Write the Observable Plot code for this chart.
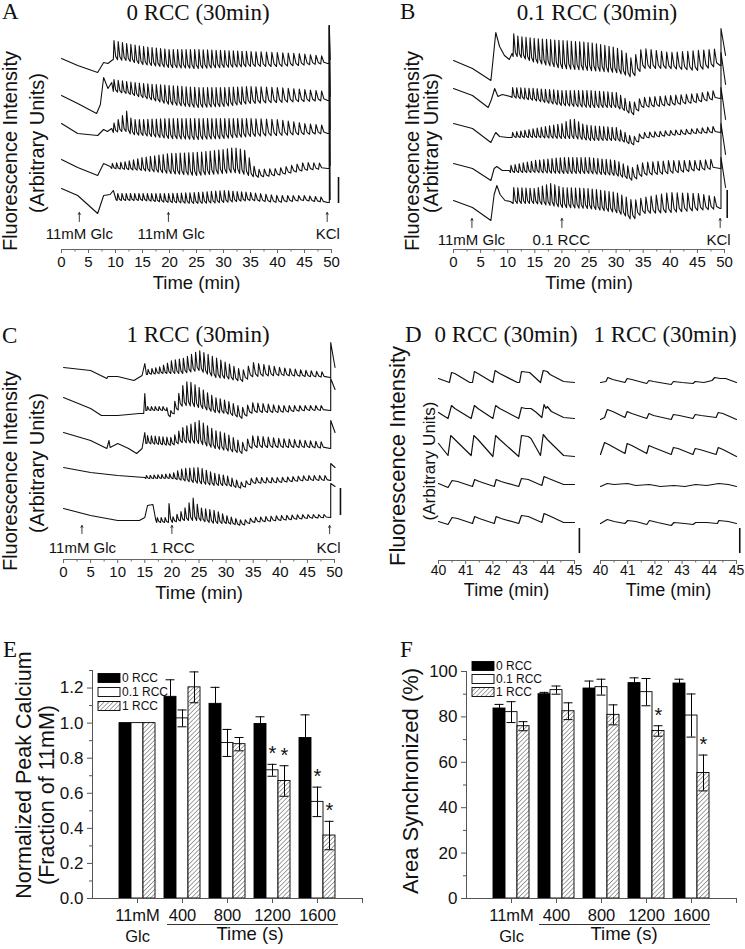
<!DOCTYPE html>
<html><head><meta charset="utf-8">
<script src="https://cdn.jsdelivr.net/npm/d3@7"></script>
<script src="https://cdn.jsdelivr.net/npm/@observablehq/plot@0.6"></script>
<style>
body{margin:0;background:#fff;}
#root{position:relative;width:745px;height:949px;overflow:hidden;background:#fff;}
.panel{position:absolute;}
.panel svg{overflow:visible;display:block;}
#overlay{position:absolute;left:0;top:0;pointer-events:none;}
</style></head><body><div id="root"></div><script>
// ---------------- DATA ----------------
// Time axes
const timeTicks = [0,5,10,15,20,25,30,35,40,45,50];
const timeMinor = [2.5,7.5,12.5,17.5,22.5,27.5,32.5,37.5,42.5,47.5];
const zoomTicks = [40,41,42,43,44,45];
const zoomMinor = [40.5,41.5,42.5,43.5,44.5];

// Oscillation period (min) read along each recording: [t, period]
const periodA = [[9,0.78],[33,0.8],[37,1.0],[50,1.05]];
const periodB = [[10,0.75],[30,0.78],[34,0.95],[50,1.0]];
const periodC = [[15,0.7],[30,0.8],[34,0.95],[50,1.0]];

// Panel A (0 RCC): pre-oscillation trace [t, F], oscillation envelope [t, trough, peak], KCl [t, peak, end]
const aPre = [
 [[0,191],[3,184],[6.7,177],[7.8,187],[8.6,186],[9.3,189]],
 [[0,154],[3,146],[6.5,136],[7.2,145],[7.8,172],[8.6,161],[9.3,167]],
 [[0,126],[3,116],[6.7,114],[7.8,120],[8.5,118],[9.3,121]],
 [[0,90],[3,82],[6.7,74],[7.8,86],[9,83]],
 [[0,61],[3,54],[6.7,36],[7.8,54],[9,55],[9.6,59],[10.1,50]]
];
const aEnv = [
 [[9.6,190,209],[12,189,206],[15,185,203],[20,182,200],[25,181,200],[30,182,199],[35,183,198],[40,183,197],[44,184,196],[49.3,186,193]],
 [[9.6,158,170],[12,156,168],[15,152,166],[20,145,164],[25,142,162],[30,143,162],[35,146,163],[40,147,162],[45,148,160],[49.3,149,158]],
 [[9.6,117,126],[11,118,132],[12,118,139],[13,115,130],[15,114,130],[20,111,131],[25,110,131],[30,111,131],[35,113,131],[40,114,130],[45,115,126],[49.3,116,124]],
 [[9.3,81,86],[12,80,88],[15,79,92],[20,76,96],[25,74,97],[30,76,100],[32,77,102],[34,75,99],[36,72,80],[40,74,81],[45,79,87],[49.3,81,86]],
 [[10.3,49,56],[15,49,56],[20,47,56],[25,46,57],[30,47,59],[35,49,57],[40,47,54],[45,49,54],[49.3,47,52]]
];
const aKCl = [[49.6,224,190],[49.6,224,153],[49.6,224,120],[49.6,224,84],[49.6,224,50]];
const aArrows = [[3.3,28,37],[19.8,28,37],[49.2,28,37]];
const aNotes = [[3.3,15,"11mM Glc"],[20.3,15,"11mM Glc"],[49.3,15,"KCl"]];
const aBar = [[51.3,46,72]];

// Panel B (0.1 RCC)
const bPre = [
 [[0,189],[3.5,181],[6.9,169],[7.3,190],[7.8,217],[8.5,203],[9.4,194],[10.3,190],[10.8,196]],
 [[0,161],[3.5,154],[6.4,142],[7.0,150],[7.6,161],[8.2,153],[9,155],[10.5,153]],
 [[0,126],[3.5,121],[6.9,107],[7.5,114],[7.8,117],[8.5,113],[10,112]],
 [[0,86],[3.5,81],[6.9,69],[7.5,81],[8,83],[9,79],[10.3,79]],
 [[0,49],[3.5,42],[6.9,29],[7.5,55],[8,64],[8.6,55],[9.5,49],[10.5,48]]
];
const bEnv = [
 [[11,193,216],[12,193,213],[15,187,211],[20,181,209],[25,179,207],[30,177,202],[32,174,196],[33,172,190],[34,176,198],[35,181,201],[40,181,197],[45,179,199],[49.2,184,201]],
 [[10.8,152,162],[15,149,161],[20,144,159],[25,142,159],[30,142,157],[32,138,150],[33,134,146],[34,138,150],[35,142,152],[40,144,154],[45,147,156],[49.2,151,160]],
 [[10.8,112,117],[15,112,121],[20,111,126],[22,111,131],[24,110,125],[25,109,124],[30,109,122],[32,107,116],[33,104,112],[34,107,115],[35,111,117],[40,114,119],[45,116,121],[49.2,117,124]],
 [[10.5,77,84],[15,77,89],[20,76,92],[25,76,92],[30,74,89],[32,71,84],[33,69,82],[34,71,85],[35,74,87],[40,76,89],[45,79,89],[49.2,81,91]],
 [[11,46,62],[15,46,61],[18,44,66],[20,42,62],[25,41,61],[30,37,57],[32,33,52],[33,29,49],[34,33,50],[35,36,52],[40,37,57],[45,39,56],[49.2,41,52]]
];
const bKCl = [[49.35,221,194],[49.35,197,165],[49.35,162,130],[49.35,126,95],[49.35,92,62]];
const bArrows = [[3.4,22,31],[20,22,31],[49.2,22,31]];
const bNotes = [[3.3,9,"11mM Glc"],[19.9,9,"0.1 RCC"],[48.9,9,"KCl"]];
const bBar = [[50.5,31,59]];

// Panel C (1 RCC)
const cPre = [
 [[0,192],[5,189],[8,181],[8.2,183],[10,183],[13,179],[14.5,184],[15,196],[15.3,185]],
 [[0,162],[5,151],[7,144],[10,144],[14,146],[14.8,146],[15,166],[15.2,149]],
 [[0,127],[5,119],[8,111],[8.4,119],[8.6,112],[10,116],[12,111],[13.5,106],[14.5,111],[15,127],[15.2,116]],
 [[0,92],[5,87],[10,84],[15,82]],
 [[0,51],[5,44],[10,39],[14,39],[15,42],[15.5,54],[16.5,55],[17,40]]
];
const cEnv = [
 [[15.5,185,190],[18,186,193],[20,186,199],[22,186,201],[25,189,209],[28,182,202],[30,181,197],[33,178,189],[35,183,197],[40,184,192],[45,183,189],[49.2,182,187]],
 [[15.4,149,153],[19,149,153],[19.5,142,145],[20.5,146,158],[22,154,174],[23,154,179],[25,152,172],[28,147,162],[30,146,159],[33,141,152],[35,147,157],[40,147,154],[45,149,154],[49.2,149,154]],
 [[15.4,116,124],[20,114,122],[22,117,132],[25,116,139],[28,111,129],[30,109,126],[33,106,117],[35,112,124],[40,112,121],[45,112,119],[49.2,111,117]],
 [[15.2,81,84],[18,81,85],[20,81,86],[22,79,91],[25,76,92],[28,74,86],[30,74,84],[33,71,77],[35,76,82],[40,77,82],[45,79,84],[49.2,79,84]],
 [[17.2,37,42],[19,37,42],[19.5,37,57],[20,37,42],[22,39,49],[24,39,62],[25,39,52],[28,36,49],[30,36,44],[33,34,39],[35,37,42],[40,39,44],[45,41,45],[49.2,42,45]]
];
const cKCl = [[49.3,217,192],[49.3,181,170],[49.3,139,127],[49.3,96,92],[49.3,76,73]];
const cArrows = [[3.4,26,34],[20,26,34],[49.1,26,34]];
const cNotes = [[3.5,11,"11mM Glc"],[20.1,11,"1 RCC"],[48.9,11,"KCl"]];
const cBar = [[51.1,44,71]];

// Panel D: 40-45 min excerpts [t, F]
const d0 = [
 [[40.0,182],[40.4,178],[40.48,188],[40.6,187],[41.15,178],[41.25,178],[41.32,189],[41.45,187],[42.0,178],[42.08,190],[42.25,187],[42.9,178],[42.98,178],[43.05,189],[43.35,188],[43.75,178],[43.85,190],[44.0,189],[44.1,186],[44.6,179],[45.0,178]],
 [[40.0,148],[40.35,142],[40.48,155],[40.6,152],[41.2,142],[41.32,155],[41.45,152],[42.0,142],[42.1,155],[42.25,152],[42.95,142],[43.05,153],[43.2,152],[43.4,152],[43.6,148],[43.8,143],[43.88,156],[43.95,152],[44.0,154],[44.15,149],[44.6,143],[45.0,142]],
 [[40.0,117],[40.35,105],[40.45,125],[40.6,121],[41.2,105],[41.3,125],[41.45,121],[42.0,104],[42.1,125],[42.25,121],[42.95,104],[43.05,125],[43.3,124],[43.4,122],[43.75,105],[43.85,126],[44.0,121],[44.6,105],[45.0,104]],
 [[40.0,77],[40.35,73],[40.5,80],[40.7,79],[41.25,74],[41.33,81],[41.5,79],[42.05,74],[42.12,81],[42.3,79],[42.95,74],[43.05,82],[43.3,81],[43.8,75],[43.88,84],[44.05,82],[44.6,76],[45.0,76]],
 [[40.0,39],[40.35,36],[40.5,43],[40.7,42],[41.25,37],[41.33,44],[41.5,42],[42.05,37],[42.12,44],[42.3,42],[42.95,37],[43.05,45],[43.3,44],[43.8,38],[43.88,47],[44.05,45],[44.6,38],[45.0,38]]
];
const d1 = [
 [[40.0,178],[40.2,179],[40.27,183],[40.45,181],[40.9,178],[40.98,182],[41.15,181],[41.7,177],[41.78,180],[41.95,179],[42.6,176],[42.68,179],[43.0,178],[43.4,177],[43.48,179],[43.8,178],[44.1,180],[44.2,183],[44.4,182],[44.6,182],[44.8,180],[45.0,178]],
 [[40.0,141],[40.15,143],[40.25,151],[40.45,149],[40.9,143],[40.98,149],[41.15,147],[41.7,142],[41.78,147],[41.95,145],[42.6,141],[42.68,146],[42.9,145],[43.4,142],[43.48,146],[43.7,145],[44.25,143],[44.33,148],[44.5,147],[45.0,141]],
 [[40.0,106],[40.15,118],[40.3,116],[40.9,107],[40.98,117],[41.15,115],[41.7,107],[41.78,115],[41.95,113],[42.6,106],[42.68,113],[42.85,112],[43.4,106],[43.48,112],[43.65,111],[44.25,106],[44.33,113],[44.5,111],[45.0,104]],
 [[40.0,74],[40.25,77],[40.5,76],[41.0,77],[41.3,75],[41.8,76],[42.2,74],[42.7,75],[43.1,74],[43.5,76],[43.9,75],[44.35,77],[44.7,76],[45.0,74]],
 [[40.0,37],[40.25,41],[40.5,39],[40.9,37],[41.0,40],[41.3,39],[41.7,36],[41.8,40],[42.1,38],[42.6,35],[42.7,38],[43.1,37],[43.4,36],[43.5,38],[43.9,38],[44.3,37],[44.35,40],[44.7,39],[45.0,37]]
];
const d0Bar = [[45.18,7,32]];
const d1Bar = [[45.12,7,32]];

// Panels E, F: grouped bars
const groupLabels = ["11mM\nGlc","400","800","1200","1600"];
const seriesNames = ["0 RCC","0.1 RCC","1 RCC"];
const ePeak = [[1.0,1.15,1.11,0.995,0.915],[1.0,1.027,0.887,0.731,0.551],[1.0,1.204,0.88,0.67,0.359]];
const ePeakErr = [[0,0.097,0.094,0.041,0.132],[0,0.048,0.077,0.034,0.084],[0,0.088,0.038,0.087,0.081]];
const eSig = [[4,1],[4,2],[5,1],[5,2]];
const eTicks = [0,0.2,0.4,0.6,0.8,1.0,1.2];
const eMinor = [0.1,0.3,0.5,0.7,0.9,1.1,1.3];
const fSync = [[83.7,90.0,92.5,94.9,94.7],[82.1,91.8,93.1,90.9,80.6],[75.9,82.5,80.9,73.8,55.3]];
const fSyncErr = [[1.8,0.8,3.3,2.3,1.9],[4.6,1.8,3.5,6.0,9.5],[2.0,3.7,4.4,2.3,7.9]];
const fSig = [[4,2],[5,2]];
const fTicks = [0,20,40,60,80,100];
const fMinor = [10,30,50,70,90];

// ---------------- RENDER ----------------
const SANS = "'Liberation Sans', Arial, Helvetica, sans-serif";
const SERIF = "'Liberation Serif', 'Times New Roman', serif";
const root = document.getElementById("root");
const NS = "http://www.w3.org/2000/svg";

function place(node, left, top) {
  const d = document.createElement("div");
  d.className = "panel"; d.style.left = left + "px"; d.style.top = top + "px";
  d.appendChild(node); root.appendChild(d);
}
function lerp(arr, t, col) {
  if (t <= arr[0][0]) return arr[0][col];
  for (let i = 1; i < arr.length; i++) {
    if (t <= arr[i][0]) {
      const a = arr[i-1], b = arr[i], f = (t - a[0]) / (b[0] - a[0]);
      return a[col] + f * (b[col] - a[col]);
    }
  }
  return arr[arr.length-1][col];
}
function buildTrace(id, pre, env, period, kcl, tEnd) {
  const out = pre.map(([t, v]) => ({id, t, v}));
  const t1 = env[env.length-1][0];
  let t = env[0][0];
  while (true) {
    const p = lerp(period, t, 1);
    if (t + p > t1) break;
    const lo = lerp(env, t, 1), hi = lerp(env, t + 0.15*p, 2), lo2 = lerp(env, t + p, 1);
    out.push({id, t, v: lo}, {id, t: t + 0.15*p, v: hi}, {id, t: t + 0.55*p, v: lo2 + 0.18*(hi - lo2)});
    t += p;
  }
  const last = lerp(env, t1, 1);
  out.push({id, t: t1, v: last}, {id, t: kcl[0], v: last});
  out.push({id, t: kcl[0], v: kcl[1]}, {id, t: tEnd, v: kcl[2]});
  return out;
}
const baseStyle = {fontFamily: SANS, fontSize: "15px", background: "transparent", color: "#111", overflow: "visible"};

function tracePanel(o) {
  const pts = [];
  o.pre.forEach((pre, i) => pts.push(...buildTrace(i, pre, o.env[i], o.period, o.kcl[i], o.tEnd)));
  return Plot.plot({
    width: o.width, height: o.height,
    marginLeft: o.mL, marginRight: o.mR, marginTop: o.mT, marginBottom: o.mB,
    x: {domain: [0, 50]}, y: {domain: [0, o.yMax], axis: null},
    style: baseStyle,
    marks: [
      Plot.ruleY([0], {stroke: "#666"}),
      Plot.axisX({ticks: timeTicks, tickSize: 4, tickPadding: 3, fontSize: 15, label: null, stroke: "#666"}),
      Plot.axisX({ticks: timeMinor, tickSize: 2.5, tickFormat: () => "", label: null, stroke: "#666"}),
      Plot.line(pts, {x: "t", y: "v", z: "id", stroke: "#111", strokeWidth: 1.1}),
      Plot.arrow(o.arrows, {x1: d => d[0], x2: d => d[0], y1: d => d[1], y2: d => d[2], headLength: 3.5, stroke: "#222", strokeWidth: 0.9}),
      Plot.text(o.notes, {x: d => d[0], y: d => d[1], text: d => d[2], fontSize: 15}),
      Plot.ruleX(o.bar, {x: d => d[0], y1: d => d[1], y2: d => d[2], stroke: "#111", strokeWidth: 1.6}),
      Plot.text(["Time (min)"], {frameAnchor: "bottom", text: d => d, dy: 39, fontSize: 18.5})
    ]
  });
}
function zoomPanel(o) {
  const pts = [];
  o.traces.forEach((tr, i) => tr.forEach(([t, v]) => pts.push({id: i, t, v})));
  return Plot.plot({
    width: o.width, height: o.height,
    marginLeft: o.mL, marginRight: o.mR, marginTop: 40, marginBottom: 60,
    x: {domain: [40, 45]}, y: {domain: [0, 200], axis: null},
    style: baseStyle,
    marks: [
      Plot.ruleY([0], {stroke: "#666"}),
      Plot.axisX({ticks: zoomTicks, tickSize: 4, tickPadding: 1, fontSize: 14, tickFormat: d3.format("d"), label: null, stroke: "#666"}),
      Plot.axisX({ticks: zoomMinor, tickSize: 2.5, tickFormat: () => "", label: null, stroke: "#666"}),
      Plot.line(pts, {x: "t", y: "v", z: "id", stroke: "#111", strokeWidth: 1.2}),
      Plot.ruleX(o.bar, {x: d => d[0], y1: d => d[1], y2: d => d[2], stroke: "#111", strokeWidth: 1.6}),
      Plot.text(["Time (min)"], {frameAnchor: "bottom", text: d => d, dy: 35.5, fontSize: 18})
    ]
  });
}
const BW = 0.2667, CAP = 0.1;
const barFills = ["#000", "#fff", "url(#hatch)"];
function barPanel(o) {
  const rows = [];
  o.means.forEach((ms, si) => ms.forEach((m, gi) => {
    const g = gi + 1, x1 = g - 0.4 + si*BW, x2 = x1 + BW;
    rows.push({si, g, x1, x2, xc: (x1 + x2)/2, m, e: o.errs[si][gi]});
  }));
  const withErr = rows.filter(d => d.e > 0);
  const stars = o.sig.map(([g, si]) => rows.find(d => d.g === g && d.si === si));
  const labels = groupLabels.map((l, i) => ({x: i + 1, l}));
  return Plot.plot({
    width: o.width, height: o.height,
    marginLeft: o.mL, marginRight: o.mR, marginTop: o.mT, marginBottom: o.mB,
    x: {domain: [0, 6], axis: null}, y: {domain: [0, o.yMax], axis: null},
    style: baseStyle,
    marks: [
      ...[0,1,2].map(si => Plot.rect(rows.filter(d => d.si === si), {x1: "x1", x2: "x2", y1: 0, y2: "m", fill: barFills[si], stroke: "#000", strokeWidth: 0.9})),
      Plot.ruleX(withErr, {x: "xc", y1: d => d.m - d.e, y2: d => d.m + d.e, stroke: "#000", strokeWidth: 1}),
      Plot.ruleY(withErr, {y: d => d.m + d.e, x1: d => d.xc - CAP, x2: d => d.xc + CAP, stroke: "#000", strokeWidth: 1}),
      Plot.ruleY(withErr, {y: d => d.m - d.e, x1: d => d.xc - CAP, x2: d => d.xc + CAP, stroke: "#000", strokeWidth: 1}),
      Plot.ruleY([0], {stroke: "#555"}),
      Plot.ruleX([0], {stroke: "#555"}),
      Plot.axisY({ticks: o.yTicks, tickSize: 5, tickPadding: 4, fontSize: 17, tickFormat: o.yFmt, label: null, stroke: "#555"}),
      Plot.axisY({ticks: o.yMinor, tickSize: 3, tickFormat: () => "", label: null, stroke: "#555"}),
      Plot.axisX({ticks: [1,2,3,4,5,6], tickSize: 5, tickFormat: () => "", label: null, stroke: "#555"}),
      Plot.text(stars, {x: "xc", y: d => d.m + d.e, text: () => "*", dy: -4, lineAnchor: "bottom", fontSize: 20}),
      Plot.text(labels, {x: "x", text: "l", frameAnchor: "bottom", lineAnchor: "top", dy: 8, fontSize: 16.5, lineHeight: 1.25}),
      Plot.text([{x: (labels[1].x + labels[4].x)/2, l: "Time (s)"}], {x: "x", text: "l", frameAnchor: "bottom", dy: 41.5, fontSize: 18.5})
    ]
  });
}

// A
place(tracePanel({width: 372, height: 320, mL: 61, mR: 41, mT: 19, mB: 71, yMax: 230,
  pre: aPre, env: aEnv, period: periodA, kcl: aKCl, tEnd: 49.75, arrows: aArrows, notes: aNotes, bar: aBar}), 0, 0);
// B
place(tracePanel({width: 373, height: 320, mL: 81, mR: 21, mT: 19, mB: 71, yMax: 230,
  pre: bPre, env: bEnv, period: periodB, kcl: bKCl, tEnd: 50.2, arrows: bArrows, notes: bNotes, bar: bBar}), 372, 0);
// C
place(tracePanel({width: 372, height: 300, mL: 63, mR: 38, mT: 9, mB: 61, yMax: 230,
  pre: cPre, env: cEnv, period: periodC, kcl: cKCl, tEnd: 50.1, arrows: cArrows, notes: cNotes, bar: cBar}), 0, 320);
// D
place(zoomPanel({width: 216, height: 300, mL: 66, mR: 14, traces: d0, bar: d0Bar}), 372, 320);
place(zoomPanel({width: 157, height: 300, mL: 12, mR: 9, traces: d1, bar: d1Bar}), 588, 320);
// E
place(barPanel({width: 372, height: 349, mL: 92, mR: 10, mT: 70, mB: 51, yMax: 1.3,
  means: ePeak, errs: ePeakErr, sig: eSig, yTicks: eTicks, yMinor: eMinor, yFmt: d3.format(".1f")}), 0, 600);
// F
place(barPanel({width: 373, height: 349, mL: 94, mR: 9, mT: 71, mB: 51, yMax: 100,
  means: fSync, errs: fSyncErr, sig: fSig, yTicks: fTicks, yMinor: fMinor, yFmt: d3.format("d")}), 372, 600);

// ---------------- OVERLAY TEXT ----------------
const ov = document.createElementNS(NS, "svg");
ov.setAttribute("id", "overlay"); ov.setAttribute("width", 745); ov.setAttribute("height", 949);
ov.innerHTML = `<defs><pattern id="hatch" patternUnits="userSpaceOnUse" width="3.2" height="3.2" patternTransform="rotate(45)">
<rect width="3.2" height="3.2" fill="#fff"/><line x1="0" y1="0" x2="0" y2="3.2" stroke="#333" stroke-width="0.9"/></pattern></defs>`;
function txt(s, x, y, o = {}) {
  const t = document.createElementNS(NS, "text");
  t.textContent = s;
  t.setAttribute("font-family", o.family || SANS);
  t.setAttribute("font-size", o.size || 15);
  t.setAttribute("fill", "#111");
  t.setAttribute("text-anchor", o.anchor || "start");
  if (o.rotate) { t.setAttribute("transform", `translate(${x},${y}) rotate(-90)`); t.setAttribute("text-anchor", "middle"); }
  else { t.setAttribute("x", x); t.setAttribute("y", y); }
  ov.appendChild(t);
}
function el(name, attrs) { const e = document.createElementNS(NS, name); for (const k in attrs) e.setAttribute(k, attrs[k]); ov.appendChild(e); }
const serif = {family: SERIF, size: 23};
txt("A", 2, 19, serif); txt("0 RCC (30min)", 198, 20, {...serif, anchor: "middle"});
txt("B", 400, 19, serif); txt("0.1 RCC (30min)", 597, 20, {...serif, anchor: "middle"});
txt("C", 2, 343, serif); txt("1 RCC (30min)", 198, 342, {...serif, anchor: "middle"});
txt("D", 405, 342, serif); txt("0 RCC (30min)", 506, 342, {...serif, anchor: "middle"}); txt("1 RCC (30min)", 665, 342, {...serif, anchor: "middle"});
txt("E", 3, 657, serif); txt("F", 400, 657, serif);
// y labels
txt("Fluorescence Intensity", 16.5, 151, {size: 20, rotate: true});
txt("(Arbitrary Units)", 43.5, 143, {size: 20, rotate: true});
txt("Fluorescence Intensity", 419, 151, {size: 20, rotate: true});
txt("(Arbitrary Units)", 438, 143, {size: 20, rotate: true});
txt("Fluorescence Intensity", 16.5, 471, {size: 20, rotate: true});
txt("(Arbitrary Units)", 44, 463, {size: 20, rotate: true});
txt("Fluorescence Intensity", 405, 456, {size: 22, rotate: true});
txt("(Arbitrary Units)", 435, 461, {size: 17, rotate: true});
txt("Normalized Peak Calcium", 31, 775, {size: 21.5, rotate: true});
txt("(Fraction of 11mM)", 54, 795, {size: 21.5, rotate: true});
txt("Area Synchronized (%)", 418, 781, {size: 22, rotate: true});
// time underlines
el("line", {x1: 167, x2: 338, y1: 924.5, y2: 924.5, stroke: "#333", "stroke-width": 1});
el("line", {x1: 539, x2: 710, y1: 924.5, y2: 924.5, stroke: "#333", "stroke-width": 1});
// legends
function legend(x, ys) {
  const fills = ["#000", "#fff", "url(#hatch)"];
  seriesNames.forEach((s, i) => {
    el("rect", {x: x, y: ys[i] - 4.5, width: 22, height: 9, fill: fills[i], stroke: "#000", "stroke-width": 0.9});
    txt(s, x + 24, ys[i] + 4.3, {size: 12});
  });
}
legend(98, [678, 692, 706]);
legend(472, [666, 679, 692]);
root.appendChild(ov);
</script></body></html>
